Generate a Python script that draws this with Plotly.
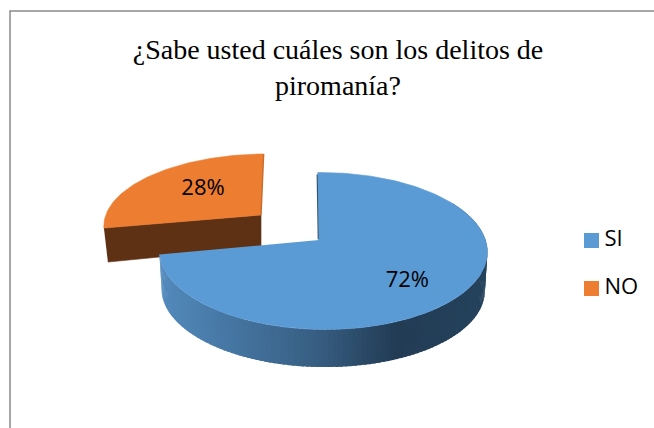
import numpy as np
import plotly.graph_objects as go

categories = ["SI", "NO"]
values = [72, 28]
labels = ["72%", "28%"]
title_lines = ["¿Sabe usted cuáles son los delitos de", "piromanía?"]
colors = ["#5b9bd5", "#ed7d31"]

W, H = 654, 428
P, Q = 0.14, 0.0244
shares = np.array(values) / sum(values) * 360.0
th_blue_end = shares[0]


def project(theta_deg, r=1.0, ax=319.0, ay=240.0, A=162.4, B=76.9, shear=-1.5, dx=0.0, dy=0.0, scale=1.0):
    t = np.radians(np.asarray(theta_deg, dtype=float))
    X, d = r * np.sin(t), r * np.cos(t)
    w = 1 + P * d - Q * X
    return ax + dx + scale * (A * X + shear * d) / w, ay + dy + scale * (-B * d) / w


ORANGE = dict(ax=261.0, ay=215.0, A=159.0, B=69.6, shear=3.0)
DEPTH, BOTTOM_SCALE = 39.0, 0.985

fig = go.Figure()


def poly(x, y, color, name=None, width=0.6):
    fig.add_trace(go.Scatter(x=list(x), y=list(y), mode="lines", fill="toself", fillcolor=color,
                             line=dict(color=color, width=width), hoverinfo="skip", showlegend=False,
                             name=name or ""))


# orange slice: front wall then top face
ox0, oy0 = project(th_blue_end, **ORANGE)
ox1, oy1 = project(th_blue_end, dx=4, dy=34, **ORANGE)
poly([ox0, ORANGE["ax"], ORANGE["ax"], ox1], [oy0, ORANGE["ay"], ORANGE["ay"] + 32, oy1], "#5e3115")
th = np.linspace(th_blue_end, 360, 80)
ax_, ay_ = project(th, **ORANGE)
poly(np.r_[ORANGE["ax"], ax_], np.r_[ORANGE["ay"], ay_], colors[1], "NO")
rx, ry = project(360, **ORANGE)
fig.add_trace(go.Scatter(x=[rx, ORANGE["ax"]], y=[ry, ORANGE["ay"]], mode="lines",
                         line=dict(color="#c9702f", width=1.5), hoverinfo="skip", showlegend=False))

# blue slice side wall, shaded strip by strip across the rim
stops_x = [160, 250, 320, 395, 485]
stops_c = np.array([[0x52, 0x8a, 0xbc], [0x42, 0x70, 0x9a], [0x36, 0x5c, 0x80], [0x22, 0x3c, 0x54], [0x25, 0x42, 0x5c]])
edges = np.arange(60, th_blue_end + 0.01, 1.5)
edges = np.r_[edges, th_blue_end]
for a, b in zip(edges[:-1], edges[1:]):
    ta = np.array([a - 0.8 if a > 60 else a, b])
    xt, yt = project(ta)
    xb, yb = project(ta, dy=DEPTH, scale=BOTTOM_SCALE)
    xm = xt.mean()
    rgb = [int(round(np.interp(xm, stops_x, stops_c[:, i]))) for i in range(3)]
    col = "rgb(%d,%d,%d)" % tuple(rgb)
    fig.add_trace(go.Scatter(x=list(np.r_[xt, xb[::-1]]), y=list(np.r_[yt, yb[::-1]]), mode="none", fill="toself",
                             fillcolor=col, hoverinfo="skip", showlegend=False))

# blue slice top face
th = np.linspace(0, th_blue_end, 200)
bx, by = project(th)
poly(np.r_[319.0, bx], np.r_[240.0, by], colors[0], "SI")
rx, ry = project(0)
fig.add_trace(go.Scatter(x=[rx - 0.5, 318.3], y=[ry + 2, 239.5], mode="lines",
                         line=dict(color="#2f5575", width=1.2), hoverinfo="skip", showlegend=False))

# percentage labels
lx0, ly0 = project(135.0, r=0.70)
lx1, ly1 = project(315.0, r=0.56, **ORANGE)
fig.add_trace(go.Scatter(x=[lx0, lx1], y=[ly0, ly1], mode="text", text=labels, textposition="middle center",
                         textfont=dict(family="Open Sans", size=22, color="#000000"),
                         hoverinfo="skip", showlegend=False))

# legend entries, placed by hand so the swatch and its text sit where the reference has them
legend_x, legend_y = [591.5, 591.5], [240.5, 288.5]
for name, color, lx, ly in zip(categories, colors, legend_x, legend_y):
    fig.add_trace(go.Scatter(x=[lx], y=[ly], mode="markers", name=name,
                             marker=dict(symbol="square", size=15, color=color),
                             hoverinfo="skip", showlegend=False))
    fig.add_trace(go.Scatter(x=[lx + 13], y=[ly], mode="text", text=[name], textposition="middle right",
                             textfont=dict(family="Open Sans", size=22, color="#000000"),
                             hoverinfo="skip", showlegend=False))

fig.update_layout(
    width=W, height=H, margin=dict(l=0, r=0, t=0, b=0),
    paper_bgcolor="white", plot_bgcolor="white",
    xaxis=dict(range=[0, W], visible=False, fixedrange=True),
    yaxis=dict(range=[H, 0], visible=False, fixedrange=True),
    title=dict(text=title_lines[0], x=338 / W, xanchor="center", y=1 - 39 / H, yanchor="top",
               font=dict(family="Liberation Serif", size=28, color="#000000")),
    annotations=[dict(text=title_lines[1], x=338, y=85, xref="x", yref="y", xanchor="center", yanchor="middle",
                      showarrow=False, font=dict(family="Liberation Serif", size=28, color="#000000"))],
    shapes=[dict(type="path", path=f"M 10 {H} L 10 11 L {W} 11", line=dict(color="#8a8a8a", width=1.5),
                 xref="x", yref="y")],
    showlegend=False,
)

fig.write_html("out.html", config=dict(displayModeBar=False),
               post_script="document.body.style.margin='0';document.documentElement.style.overflow='hidden';")
